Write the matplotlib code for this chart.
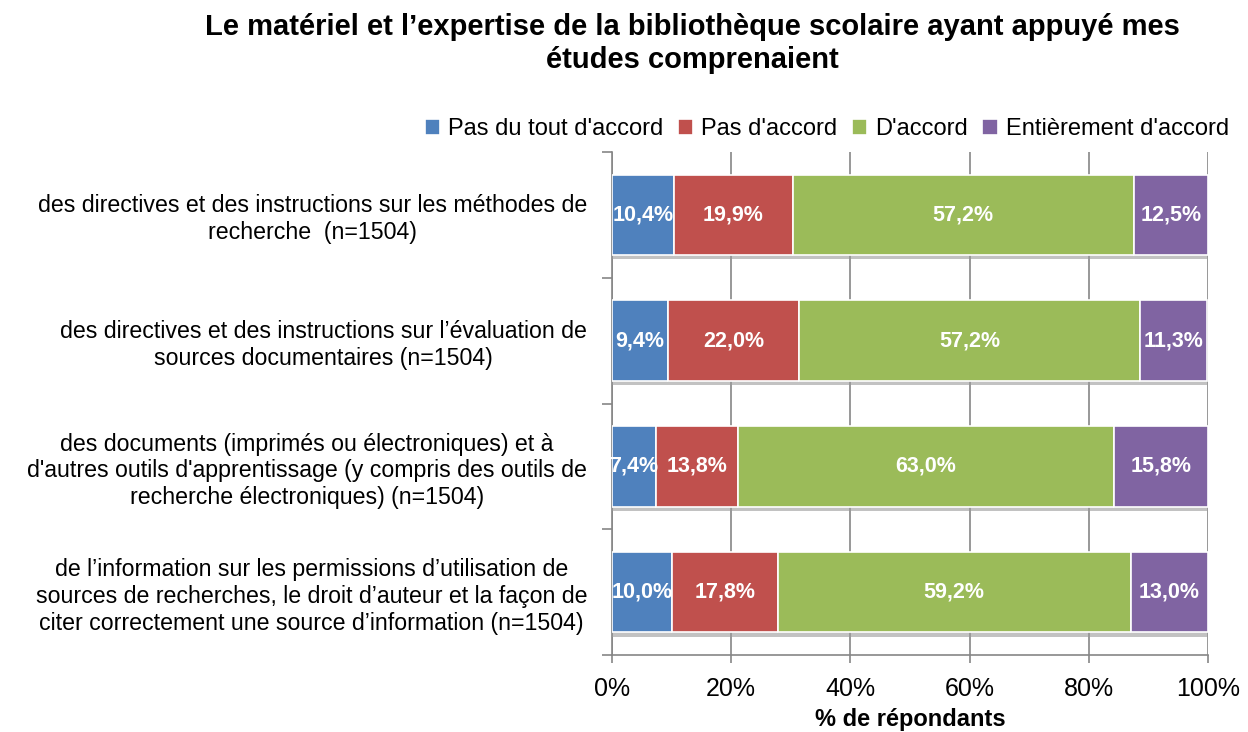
import numpy as np
import matplotlib.pyplot as plt
from matplotlib import patheffects as pe

plt.rcParams['font.family'] = ['Liberation Sans', 'DejaVu Sans']

categories = [
    "des directives et des instructions sur les méthodes de\nrecherche  (n=1504)",
    "des directives et des instructions sur l’évaluation de\nsources documentaires (n=1504)",
    "des documents (imprimés ou électroniques) et à\nd'autres outils d'apprentissage (y compris des outils de\nrecherche électroniques) (n=1504)",
    "de l’information sur les permissions d’utilisation de\nsources de recherches, le droit d’auteur et la façon de\nciter correctement une source d’information (n=1504)",
]
series_names = ["Pas du tout d'accord", "Pas d'accord", "D'accord", "Entièrement d'accord"]
pas_du_tout = [10.4, 9.4, 7.4, 10.0]
pas_accord = [19.9, 22.0, 13.8, 17.8]
accord = [57.2, 57.2, 63.0, 59.2]
entierement = [12.5, 11.3, 15.8, 13.0]
colors = ['#4f81bd', '#c0504d', '#9bbb59', '#8064a2']

series = [pas_du_tout, pas_accord, accord, entierement]

fig = plt.figure(figsize=(12.48, 7.32), dpi=100)
ax = fig.add_axes([0.4904, 0.1052, 0.4776, 0.6871])

y = np.arange(len(categories))
left = np.zeros(len(categories))
shadow = [pe.SimplePatchShadow(offset=(0, -3), shadow_rgbFace='#9a9a9a', alpha=0.6), pe.Normal()]
for name, vals, c in zip(series_names, series, colors):
    vals = np.array(vals)
    bars = ax.barh(y, vals, left=left, height=0.64, color=c, edgecolor='white',
                   linewidth=1.2, label=name, zorder=3)
    for b in bars:
        b.set_path_effects(shadow)
    for yi, l, v in zip(y, left, vals):
        ax.text(l + v / 2, yi, f"{v:.1f}%".replace('.', ','), ha='center', va='center',
                color='white', fontsize=15.5, fontweight='bold', zorder=4)
    left = left + vals

ax.set_xlim(0, 100)
ax.set_ylim(len(categories) - 0.5, -0.5)
ax.set_xticks(np.arange(0, 101, 20))
ax.set_xticklabels([f"{t}%" for t in range(0, 101, 20)], fontsize=18)
ax.set_yticks(y)
ax.set_yticklabels(categories, fontsize=16.7, multialignment='center')
ax.set_yticks(np.arange(-0.5, len(categories)), minor=True)
ax.tick_params(axis='y', which='major', length=0, pad=18)
ax.tick_params(axis='y', which='minor', length=7, color='#868686', width=1.2)
ax.tick_params(axis='x', length=6, color='#868686', width=1.2, pad=10)
ax.xaxis.grid(True, color='#868686', linewidth=1.2, zorder=0)
ax.set_axisbelow(True)
for s in ['top', 'right']:
    ax.spines[s].set_visible(False)
for s in ['left', 'bottom']:
    ax.spines[s].set_color('#868686')
    ax.spines[s].set_linewidth(1.2)

ax.set_xlabel('% de répondants', fontsize=17, fontweight='bold', labelpad=5)

leg = ax.legend(loc='lower right', bbox_to_anchor=(1.055, 1.0), ncol=4, frameon=False,
                fontsize=17, handlelength=0.65, handleheight=0.65, handletextpad=0.35,
                columnspacing=0.6, borderaxespad=0.1)
for h in leg.legend_handles:
    h.set_path_effects([])

fig.text(0.555, 0.982, "Le matériel et l’expertise de la bibliothèque scolaire ayant appuyé mes\nétudes comprenaient",
         ha='center', va='top', fontsize=21, fontweight='bold', linespacing=1.2)

fig.savefig('out.png', dpi=100)
